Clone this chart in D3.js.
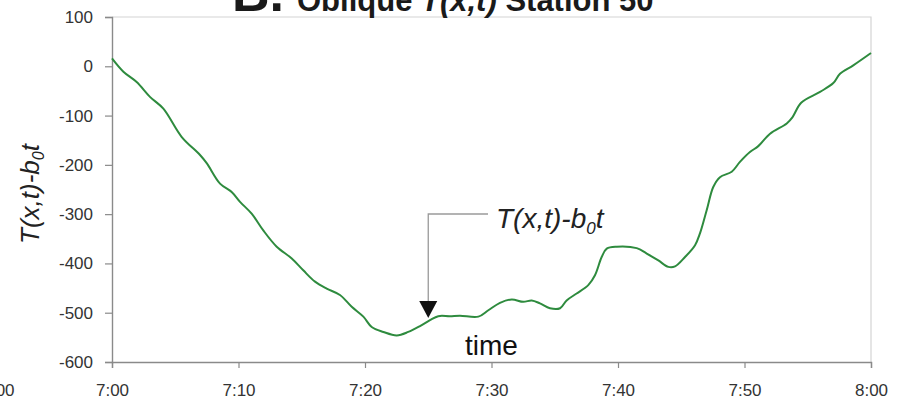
<!DOCTYPE html>
<html>
<head>
<meta charset="utf-8">
<title>Oblique T(x,t) Station 50</title>
<style>
body { margin: 0; background: #fff; }
text { font-family: "Liberation Sans", Arial, sans-serif; }
</style>
</head>
<body>
<script src="https://cdn.jsdelivr.net/npm/d3@7"></script>
<svg id="chart"></svg>
<script>

// minutes after 7:00 and T(x,t)-b0t
var minutes = [0, 0.9, 1.95, 3.0, 4.06, 5.5, 6.96, 7.5, 8.54, 9.46, 10.12, 11.04, 11.96, 13.02, 14.21,
  15.12, 16.05, 16.97, 18.02, 18.95, 19.87, 20.53, 21.45, 22.51, 23.42, 24.35, 25.14, 25.79, 26.72,
  27.51, 28.96, 29.75, 30.67, 31.6, 32.51, 33.18, 33.83, 34.62, 35.42, 35.94, 36.73, 37.65, 38.18,
  38.71, 39.11, 39.9, 41.48, 42.27, 43.19, 43.98, 44.51, 45.3, 46.09, 46.48, 47.01, 47.53, 48.06,
  48.99, 49.64, 50.43, 51.09, 52.02, 53.34, 53.8, 54.48, 55.97, 57.02, 57.55, 58.6, 60];
var values = [16, -11, -32, -62, -86, -143, -180, -197, -238, -255, -275, -299, -333, -366, -390,
  -414, -437, -451, -464, -488, -508, -529, -539, -546, -539, -527, -515, -507, -507,
  -506, -508, -495, -480, -473, -478, -475, -481, -491, -491, -475, -461, -444, -424,
  -387, -370, -366, -369, -380, -394, -407, -406, -387, -363, -339, -292, -245, -225,
  -214, -194, -174, -162, -137, -116, -103, -74, -52, -34, -15, 2, 27];

var yTicks = [100, 0, -100, -200, -300, -400, -500, -600];
var xTickLabels = ["7:00", "7:10", "7:20", "7:30", "7:40", "7:50", "8:00"];

var W = 905, H = 401;
var mLeft = 112, mRight = 871, mTop = 17, mBottom = 362;

var svg = d3.select("#chart").attr("width", W).attr("height", H);

var t0 = new Date(2000, 0, 1, 7, 0);
var x = d3.scaleTime()
  .domain([t0, new Date(2000, 0, 1, 8, 0)])
  .range([mLeft, mRight]);
var y = d3.scaleLinear().domain([-600, 100]).range([mBottom, mTop]);

var data = minutes.map(function(m, i) {
  return { t: new Date(t0.getTime() + m * 60000), v: values[i] };
});

// frame (top and right)
svg.append("path")
  .attr("d", "M" + mLeft + "," + mTop + "H" + mRight + "V" + mBottom)
  .attr("fill", "none")
  .attr("stroke", "#d4d4d4")
  .attr("stroke-width", 1.2);

var yAxis = svg.append("g")
  .attr("transform", "translate(" + mLeft + ",0)")
  .call(d3.axisLeft(y).tickValues(yTicks).tickSize(7).tickPadding(12)
    .tickFormat(function(d) { return String(d); }));

var xAxis = svg.append("g")
  .attr("transform", "translate(0," + mBottom + ")")
  .call(d3.axisBottom(x).ticks(d3.timeMinute.every(10)).tickSize(6).tickPadding(16)
    .tickFormat(function(d, i) { return xTickLabels[i]; }));

[yAxis, xAxis].forEach(function(a) {
  a.attr("font-size", 17).attr("font-family", "'Liberation Sans', Arial, sans-serif");
  a.select(".domain").attr("stroke", "#8a8a8a").attr("stroke-width", 1.4);
  a.selectAll(".tick line").attr("stroke", "#8a8a8a").attr("stroke-width", 1.2);
  a.selectAll("text").attr("fill", "#333");
});

// partial label from the neighbouring panel
svg.append("text")
  .attr("x", -2).attr("y", 396)
  .attr("text-anchor", "middle")
  .attr("fill", "#333").style("font-size", "17px")
  .text("8:00");

var line = d3.line()
  .x(function(d) { return x(d.t); })
  .y(function(d) { return y(d.v); })
  .curve(d3.curveCatmullRom.alpha(0.5));

svg.append("path")
  .datum(data)
  .attr("d", line)
  .attr("fill", "none")
  .attr("stroke", "#2e8b3e")
  .attr("stroke-width", 2);

// title, cut at the top
svg.append("text")
  .attr("x", 232).attr("y", 11)
  .attr("fill", "#1a1a1a")
  .style("font-weight", "bold")
  .style("font-size", "52px")
  .text("B.");
var title = svg.append("text")
  .attr("x", 297).attr("y", 11)
  .attr("fill", "#1a1a1a")
  .style("font-weight", "bold")
  .style("font-size", "31px");
title.append("tspan").text("Oblique ");
title.append("tspan").style("font-style", "italic").text("T(x,t)");
title.append("tspan").text(" Station 50");

// y axis title
var yt = svg.append("text")
  .attr("transform", "translate(39,194) rotate(-90)")
  .attr("text-anchor", "middle")
  .attr("fill", "#222")
  .style("font-size", "26px")
  .style("font-style", "italic");
yt.append("tspan").text("T(x,t)-b");
yt.append("tspan").attr("dy", 5).style("font-size", "16px").text("0");
yt.append("tspan").attr("dy", -5).text("t");

// annotation with leader arrow
var tip = { t: new Date(t0.getTime() + 25.0 * 60000), v: -515 };
var ax = x(tip.t), ay = y(tip.v) - 2;
svg.append("path")
  .attr("d", "M488,214H" + ax + "V" + (ay - 14))
  .attr("fill", "none")
  .attr("stroke", "#9a9a9a")
  .attr("stroke-width", 1.3);
svg.append("path")
  .attr("d", "M" + (ax - 9) + "," + (ay - 17) + "L" + (ax + 9) + "," + (ay - 17) + "L" + ax + "," + ay + "Z")
  .attr("fill", "#111");

var ann = svg.append("text")
  .attr("x", 496).attr("y", 228)
  .attr("fill", "#222")
  .style("font-size", "28px")
  .style("font-style", "italic");
ann.append("tspan").text("T(x,t)-b");
ann.append("tspan").attr("dy", 6).style("font-size", "17px").text("0");
ann.append("tspan").attr("dy", -6).text("t");

svg.append("text")
  .attr("x", x(new Date(t0.getTime() + 30 * 60000)))
  .attr("y", 355)
  .attr("text-anchor", "middle")
  .attr("fill", "#111")
  .style("font-size", "28px")
  .text("time");

</script>
</body>
</html>
